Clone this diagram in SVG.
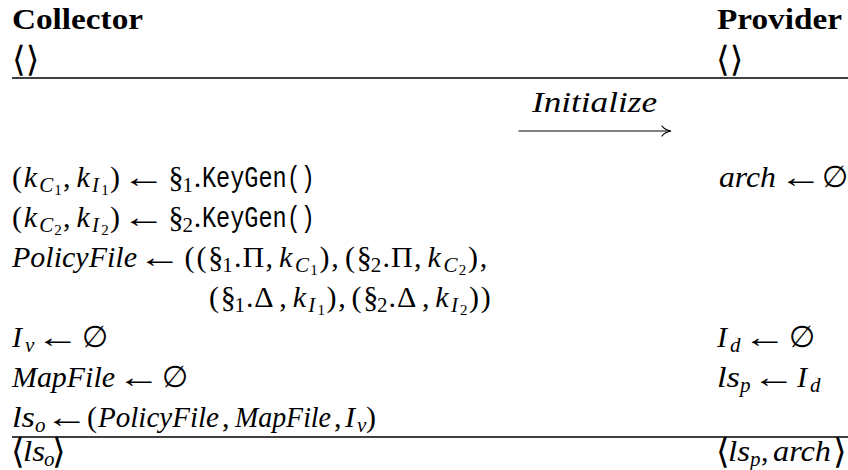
<svg xmlns="http://www.w3.org/2000/svg" width="848" height="470" viewBox="0 0 848 470">
  <style>
    text { fill: #000; }
    .r { font-family: "Liberation Serif", "DejaVu Serif", serif; font-size: 30px; }
    .i { font-family: "Liberation Serif", "DejaVu Serif", serif; font-style: italic; font-size: 30px; }
    .s { font-size: 21px; }
    .ss { font-size: 15px; }
    .arr { font-family: "Liberation Serif", "DejaVu Serif", serif; font-size: 30px; }
    .tt { font-family: "Liberation Mono", "DejaVu Sans Mono", monospace; font-size: 30px; }
    .b { font-family: "Liberation Serif", "DejaVu Serif", serif; font-weight: bold; font-size: 30px; }
    .ang { font-family: "DejaVu Sans", "DejaVu Serif", sans-serif; font-size: 35px; }
    .rule { stroke: #000; stroke-width: 1.3; fill: none; }
    .arrow { stroke: #000; stroke-width: 1.2; fill: none; stroke-linecap: round; }
  </style>

  <!-- horizontal rules of the protocol table -->
  <g id="rules">
    <line class="rule" x1="12" y1="78" x2="848" y2="78"/>
    <line class="rule" x1="12" y1="437" x2="848" y2="437"/>
  </g>

  <!-- left party -->
  <g id="collector">
    <text class="b" x="12" y="29" textLength="131" lengthAdjust="spacingAndGlyphs">Collector</text>
    <text class="ang" x="12" y="71">⟨⟩</text>

    <!-- (k_C1, k_I1) <- §1.KeyGen() -->
    <text class="r" y="187"><tspan x="12">(</tspan><tspan class="i" x="23.7">k</tspan><tspan class="i s" x="39.3" y="191.5">C</tspan><tspan class="ss" x="54.3" y="194.5">1</tspan><tspan x="63" y="187">,</tspan><tspan class="i" x="76.4">k</tspan><tspan class="i s" x="92" y="191.5">I</tspan><tspan class="ss" x="101.2" y="194.5">1</tspan><tspan x="110.1" y="187">)</tspan><tspan x="168.6">§</tspan><tspan class="s" x="182.5" y="191.5">1</tspan><tspan x="193.8" y="187">.</tspan></text>
    <text class="arr" transform="translate(122,187) scale(1.45,1)">←</text>
    <text class="tt" x="202" y="187" textLength="113" lengthAdjust="spacingAndGlyphs">KeyGen()</text>

    <!-- (k_C2, k_I2) <- §2.KeyGen() -->
    <text class="r" y="227"><tspan x="12">(</tspan><tspan class="i" x="23.7">k</tspan><tspan class="i s" x="39.3" y="231.5">C</tspan><tspan class="ss" x="54.3" y="234.5">2</tspan><tspan x="63" y="227">,</tspan><tspan class="i" x="76.4">k</tspan><tspan class="i s" x="92" y="231.5">I</tspan><tspan class="ss" x="101.2" y="234.5">2</tspan><tspan x="110.1" y="227">)</tspan><tspan x="168.6">§</tspan><tspan class="s" x="182.5" y="231.5">2</tspan><tspan x="193.8" y="227">.</tspan></text>
    <text class="arr" transform="translate(122,227) scale(1.45,1)">←</text>
    <text class="tt" x="202" y="227" textLength="113" lengthAdjust="spacingAndGlyphs">KeyGen()</text>

    <!-- PolicyFile assignment, first line -->
    <text class="i" x="12" y="267" textLength="125" lengthAdjust="spacingAndGlyphs">PolicyFile</text>
    <text class="arr" transform="translate(138,267) scale(1.45,1)">←</text>
    <text class="r" y="267"><tspan x="184.5">(</tspan><tspan x="196.4">(</tspan><tspan x="208.3">§</tspan><tspan class="s" x="222.2" y="271.5">1</tspan><tspan x="234" y="267">.</tspan><tspan x="242.5">Π</tspan><tspan x="265.4">,</tspan><tspan class="i" x="279">k</tspan><tspan class="i s" x="294.9" y="271.5">C</tspan><tspan class="ss" x="310.2" y="274.5">1</tspan><tspan x="319.4" y="267">)</tspan><tspan x="331.3">,</tspan><tspan x="344.9">(</tspan><tspan x="356.8">§</tspan><tspan class="s" x="370.7" y="271.5">2</tspan><tspan x="382.5" y="267">.</tspan><tspan x="391">Π</tspan><tspan x="413.9">,</tspan><tspan class="i" x="427.5">k</tspan><tspan class="i s" x="443.4" y="271.5">C</tspan><tspan class="ss" x="458.7" y="274.5">2</tspan><tspan x="467.9" y="267">)</tspan><tspan x="479.8">,</tspan></text>

    <!-- PolicyFile assignment, continuation line -->
    <text class="r" y="307"><tspan x="209">(</tspan><tspan x="220.7">§</tspan><tspan class="s" x="234.6" y="311.5">1</tspan><tspan x="246" y="307">.</tspan><tspan x="254.3">Δ</tspan><tspan x="279.3">,</tspan><tspan class="i" x="292.7">k</tspan><tspan class="i s" x="308.3" y="311.5">I</tspan><tspan class="ss" x="317.5" y="314.5">1</tspan><tspan x="326.5" y="307">)</tspan><tspan x="338.2">,</tspan><tspan x="351.6">(</tspan><tspan x="363.2">§</tspan><tspan class="s" x="377.1" y="311.5">2</tspan><tspan x="388.6" y="307">.</tspan><tspan x="396.9">Δ</tspan><tspan x="421.9">,</tspan><tspan class="i" x="435.2">k</tspan><tspan class="i s" x="450.9" y="311.5">I</tspan><tspan class="ss" x="460.1" y="314.5">2</tspan><tspan x="469.1" y="307">)</tspan><tspan x="480.8">)</tspan></text>

    <!-- I_v <- empty set -->
    <text class="r" y="347"><tspan class="i" x="12">I</tspan><tspan class="i s" x="25" y="351.5">v</tspan><tspan x="82" y="347">∅</tspan></text>
    <text class="arr" transform="translate(36,347) scale(1.45,1)">←</text>

    <!-- MapFile <- empty set -->
    <text class="i" x="12" y="387" textLength="103" lengthAdjust="spacingAndGlyphs">MapFile</text>
    <text class="arr" transform="translate(117,387) scale(1.45,1)">←</text>
    <text class="r" x="162" y="387">∅</text>

    <!-- ls_o <- (PolicyFile, MapFile, I_v) -->
    <text class="i" x="12" y="427" textLength="23" lengthAdjust="spacingAndGlyphs">ls</text>
    <text class="i s" x="35" y="431.5">o</text>
    <text class="arr" transform="translate(45,427) scale(1.45,1)">←</text>
    <text class="r" x="87" y="427">(</text>
    <text class="i" x="98" y="427" textLength="121" lengthAdjust="spacingAndGlyphs">PolicyFile</text>
    <text class="r" x="222" y="427">,</text>
    <text class="i" x="235" y="427" textLength="96" lengthAdjust="spacingAndGlyphs">MapFile</text>
    <text class="r" y="427"><tspan x="334">,</tspan><tspan class="i" x="345">I</tspan><tspan class="i s" x="357" y="431.5">v</tspan><tspan x="366" y="427">)</tspan></text>

    <!-- output tuple -->
    <text class="ang" x="11" y="463">⟨</text>
    <text class="i" x="23" y="461" textLength="22" lengthAdjust="spacingAndGlyphs">ls</text>
    <text class="i s" x="44" y="465.5">o</text>
    <text class="ang" x="52" y="463">⟩</text>
  </g>

  <!-- right party -->
  <g id="provider">
    <text class="b" x="717" y="29" textLength="125" lengthAdjust="spacingAndGlyphs">Provider</text>
    <text class="ang" x="716" y="71">⟨⟩</text>

    <!-- arch <- empty set -->
    <text class="i" x="719" y="187" textLength="57" lengthAdjust="spacingAndGlyphs">arch</text>
    <text class="arr" transform="translate(779,187) scale(1.45,1)">←</text>
    <text class="r" x="822" y="187">∅</text>

    <!-- I_d <- empty set -->
    <text class="r" y="347"><tspan class="i" x="717">I</tspan><tspan class="i s" x="730" y="351.5">d</tspan><tspan x="789" y="347">∅</tspan></text>
    <text class="arr" transform="translate(743,347) scale(1.45,1)">←</text>

    <!-- ls_p <- I_d -->
    <text class="i" x="717" y="387" textLength="23" lengthAdjust="spacingAndGlyphs">ls</text>
    <text class="i s" x="740" y="391.5">p</text>
    <text class="arr" transform="translate(752,387) scale(1.45,1)">←</text>
    <text class="r" y="387"><tspan class="i" x="797">I</tspan><tspan class="i s" x="810" y="391.5">d</tspan></text>

    <!-- output tuple -->
    <text class="ang" x="716" y="463">⟨</text>
    <text class="i" x="728" y="461" textLength="22" lengthAdjust="spacingAndGlyphs">ls</text>
    <text class="i s" x="750" y="465.5">p</text>
    <text class="r" x="761" y="461">,</text>
    <text class="i" x="773" y="461" textLength="58" lengthAdjust="spacingAndGlyphs">arch</text>
    <text class="ang" x="833" y="463">⟩</text>
  </g>

  <!-- message flow -->
  <g id="connectors">
    <text class="i" x="532" y="112" textLength="125" lengthAdjust="spacingAndGlyphs">Initialize</text>
    <path class="arrow" d="M519,131 H670"/>
    <path class="arrow" d="M662,126 Q665,130 671,131 Q665,132 662,136"/>
  </g>
</svg>
